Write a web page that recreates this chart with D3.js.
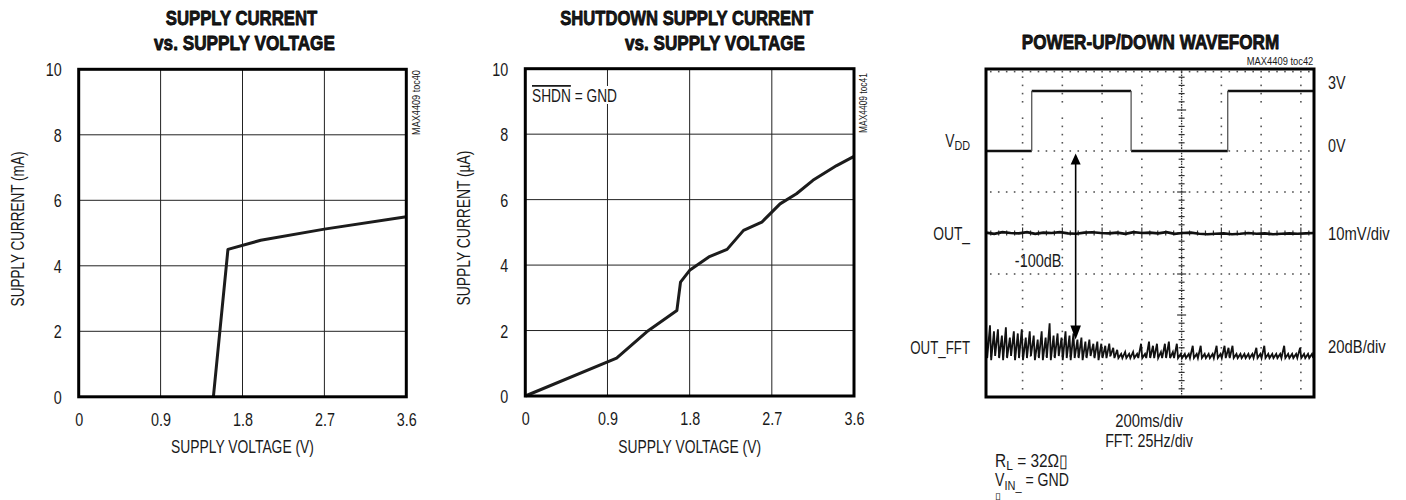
<!DOCTYPE html>
<html>
<head>
<meta charset="utf-8">
<script src="https://cdn.jsdelivr.net/npm/d3@7"></script>
<style>
  html, body { margin: 0; padding: 0; background: #fff; }
  svg { display: block; }
</style>
</head>
<body>
<svg id="chart" width="1406" height="500"></svg>
<script>
// ---------- data ----------
const voltTicks = [0, 0.9, 1.8, 2.7, 3.6];
const currentTicks = [0, 2, 4, 6, 8, 10];

// Supply current vs supply voltage (mA)
const supplyVoltage   = [1.48, 1.64, 2.00, 2.70, 3.60];
const supplyCurrentMA = [0.00, 4.50, 4.78, 5.12, 5.50];

// Shutdown supply current vs supply voltage (uA)
const shdnVoltage   = [0, 1.00, 1.33, 1.66, 1.70, 1.80, 2.01, 2.21, 2.39, 2.59, 2.79, 2.97, 3.15, 3.41, 3.60];
const shdnCurrentUA = [0, 1.16, 1.96, 2.61, 3.48, 3.84, 4.25, 4.48, 5.06, 5.31, 5.87, 6.18, 6.59, 7.04, 7.32];

// Power-up/down waveform
const vddEdgesMs = [230, 730, 1216];       // VDD transitions
const vddLevelsV = [0, 3, 0, 3];           // level in each interval
const outSampleMs = 41.25;                 // OUT_ sample interval
const outMv = [0.1, -0.2, 0.2, 0, -0.1, 0.2, -0.2, 0.1, 0, 0.2, -0.1, -0.2, 0.1, 0.2, 0, -0.1, 0.1, -0.2, 0.2, 0,
               0.1, -0.1, 0.2, -0.2, 0, 0.1, -0.2, -0.3, -0.2, -0.1, -0.3, -0.2, 0, -0.2, -0.1, -0.3, -0.2, -0.1, -0.2, -0.1, 0];
const fftBinHz = 2.5;
const fftHighDb = [-86, -85, -88, -87, -90, -86, -91, -88, -89, -87, -91, -88, -90, -92, -88, -91, -84, -90, -89, -91,
                   -88, -90, -89, -92, -91, -93, -92, -94, -93, -94, -95, -94, -96, -97, -99, -98, -99, -98, -99, -94,
                   -99, -93, -95, -94, -98, -94, -93, -98, -94, -99, -99, -99, -95, -99, -95, -99, -99, -99, -95, -99,
                   -95, -96, -95, -99, -99, -99, -99, -99, -96, -99, -95, -99, -99, -99, -99, -95, -99, -99, -99, -96,
                   -99, -99, -99];
const fftLowDb  = [-101, -102, -100, -101, -102, -101, -100, -102, -101, -102, -101, -100, -102, -101, -102, -101, -102, -101, -100, -102,
                   -101, -102, -101, -101, -102, -101, -100, -101, -102, -101, -101, -100, -101, -101, -101, -101, -101, -101, -101, -101,
                   -101, -101, -101, -101, -101, -101, -101, -101, -101, -101, -101, -101, -101, -101, -101, -101, -101, -101, -101, -101,
                   -101, -101, -101, -101, -101, -101, -101, -101, -101, -101, -101, -101, -101, -101, -101, -101, -101, -101, -101, -101,
                   -101, -101, -101];
const attenuationSpanDb = [0, -92];        // arrow between 0V line and FFT floor
const attenuationMs = 451;

// ---------- text helpers ----------
const FONT = "'Liberation Sans Narrow','Arial Narrow','Liberation Sans',Arial,sans-serif";
const INK = "#1a1a1a";
const NARROW = (() => {
  const c = document.createElement("canvas").getContext("2d");
  c.font = "40px monospace";
  const a = c.measureText("SUPPLY VOLTAGE mmm").width;
  c.font = "40px 'Liberation Sans Narrow', monospace";
  const b = c.measureText("SUPPLY VOLTAGE mmm").width;
  return Math.abs(a - b) > 0.5;
})();
const DEFAULT_SX = NARROW ? 1 : 0.82;

const svg = d3.select("#chart");

function label(parent, x, y, parts, o = {}) {
  const size = o.size || 17.5;
  const t = parent.append("text")
    .attr("font-family", FONT)
    .attr("font-size", size)
    .attr("font-weight", o.weight || "normal")
    .attr("text-anchor", o.anchor || "start")
    .attr("fill", o.fill || INK);
  if (o.heavy) t.attr("stroke", "#000").attr("stroke-width", o.heavy).attr("stroke-linejoin", "round");
  const list = Array.isArray(parts) ? parts : [{ t: parts }];
  let inSub = false;
  list.forEach(p => {
    const ts = t.append("tspan").text(p.t);
    if (p.sub) {
      ts.attr("font-size", size * 0.78).attr("dy", size * 0.2);
      inSub = true;
    } else if (inSub) {
      ts.attr("dy", -size * 0.2);
      inSub = false;
    }
    if (p.overline) ts.attr("text-decoration", "overline");
  });
  const w = t.node().getBBox().width;
  const sx = o.width ? o.width / w : DEFAULT_SX;
  t.attr("transform", `translate(${x},${y}) rotate(${o.rotate || 0}) scale(${sx},1)`);
  return t;
}

// ---------- XY panels ----------
function xyPanel(cfg) {
  const g = svg.append("g");
  const x = d3.scaleLinear().domain([0, 3.6]).range(cfg.xr);
  const y = d3.scaleLinear().domain([0, 10]).range(cfg.yr);

  g.append("g").selectAll("line").data(voltTicks.slice(1, -1)).join("line")
    .attr("x1", d => x(d)).attr("x2", d => x(d))
    .attr("y1", cfg.yr[0]).attr("y2", cfg.yr[1])
    .attr("stroke", "#222").attr("stroke-width", 1);
  g.append("g").selectAll("line").data(currentTicks.slice(1, -1)).join("line")
    .attr("y1", d => y(d)).attr("y2", d => y(d))
    .attr("x1", cfg.xr[0]).attr("x2", cfg.xr[1])
    .attr("stroke", "#222").attr("stroke-width", 1);

  if (cfg.note) cfg.note(g, x, y);

  g.append("path")
    .datum(d3.zip(cfg.vx, cfg.vy))
    .attr("d", d3.line().x(d => x(d[0])).y(d => y(d[1])))
    .attr("fill", "none").attr("stroke", "#1c1c1c")
    .attr("stroke-width", 3).attr("stroke-linejoin", "round");

  g.append("rect")
    .attr("x", cfg.xr[0]).attr("y", cfg.yr[1])
    .attr("width", cfg.xr[1] - cfg.xr[0]).attr("height", cfg.yr[0] - cfg.yr[1])
    .attr("fill", "none").attr("stroke", "#000").attr("stroke-width", 3);

  // tick labels through d3 axes
  const xa = g.append("g").attr("transform", `translate(0,${cfg.yr[0]})`)
    .call(d3.axisBottom(x).tickValues(voltTicks).tickSize(0).tickPadding(16.5)
      .tickFormat(d => d === 0 ? "0" : d.toFixed(1)));
  const ya = g.append("g").attr("transform", `translate(${cfg.xr[0]},0)`)
    .call(d3.axisLeft(y).tickValues(currentTicks).tickSize(0).tickPadding(17)
      .tickFormat(d => String(d)));
  [xa, ya].forEach(a => {
    a.select(".domain").remove();
    a.selectAll("text").attr("font-family", FONT).attr("font-size", 17.5).attr("fill", INK);
  });
  ya.selectAll("text").attr("dy", "0.37em").attr("x", 0)
    .attr("transform", `translate(-17,0) scale(${DEFAULT_SX},1)`);
  xa.selectAll("text").attr("transform", `scale(${DEFAULT_SX},1)`);

  // titles
  label(g, cfg.t1[0], cfg.t1[1], cfg.title[0], { anchor: "middle", weight: "bold", size: 21, width: cfg.t1[2], heavy: 0.8 });
  label(g, cfg.t2[0], cfg.t2[1], cfg.title[1], { anchor: "middle", weight: "bold", size: 21, width: cfg.t2[2], heavy: 0.8 });
  label(g, (cfg.xr[0] + cfg.xr[1]) / 2, 452.7, "SUPPLY VOLTAGE (V)", { anchor: "middle", width: 143 });
  label(g, cfg.ylab[0], cfg.ylab[1], cfg.ytitle, { anchor: "middle", rotate: -90, width: 155 });
  label(g, cfg.toc[0], cfg.toc[1], cfg.tocText, { anchor: "middle", rotate: -90, size: 10.5, width: cfg.toc[2] });
  return g;
}

xyPanel({
  xr: [78.7, 406.3], yr: [396.8, 69.3],
  vx: supplyVoltage, vy: supplyCurrentMA,
  title: ["SUPPLY CURRENT", "vs. SUPPLY VOLTAGE"],
  t1: [241.5, 24.5, 151.6], t2: [244.5, 49.5, 181],
  ytitle: "SUPPLY CURRENT (mA)", ylab: [23.5, 229],
  tocText: "MAX4409 toc40", toc: [420, 102.5, 65]
});

xyPanel({
  xr: [525.3, 854], yr: [396, 68.7],
  vx: shdnVoltage, vy: shdnCurrentUA,
  title: ["SHUTDOWN SUPPLY CURRENT", "vs. SUPPLY VOLTAGE"],
  t1: [686.7, 25, 253.3], t2: [715, 50, 180],
  ytitle: "SUPPLY CURRENT (\u00b5A)", ylab: [469.5, 228],
  tocText: "MAX4409 toc41", toc: [867, 103, 60],
  note: (g) => {
    g.append("rect").attr("x", 529).attr("y", 86).attr("width", 91).attr("height", 18).attr("fill", "#fff");
    label(g, 532, 101.7, [{ t: "SHDN", overline: true }, { t: " = GND" }], { width: 85 });
  }
});

// ---------- oscilloscope panel ----------
(function scopePanel() {
  const g = svg.append("g");
  const SX0 = 986, SX1 = 1314, SY0 = 397, SY1 = 69;
  const tX = d3.scaleLinear().domain([0, 1650]).range([SX0, SX1]);       // 200 ms/div
  const fX = d3.scaleLinear().domain([0, 206.25]).range([SX0, SX1]);     // 25 Hz/div
  const dY = d3.scaleLinear().domain([-4, 4]).range([SY0, SY1]);         // graticule divisions
  const vddY = v => dY(2 + v / 2.05);
  const outY = mv => dY(mv / 10);
  const fftY = db => dY(2 + db / 20);

  const centerMs = 984, msPerDiv = 200;
  const pxX = d => tX(centerMs + d * msPerDiv);
  const minorX = d3.range(-25, 17).map(j => j / 5).filter(d => pxX(d) > SX0 + 2 && pxX(d) < SX1 - 2);
  const minorY = d3.range(-19, 20).map(j => j / 5);

  const dot = (x, y) => g.append("rect").attr("x", x - 0.8).attr("y", y - 0.8)
    .attr("width", 1.6).attr("height", 1.6).attr("fill", "#555");

  // dotted columns
  [-4, -3, -2, -1, 1, 2, 3].forEach(k => {
    minorY.filter(d => Math.abs(d - Math.round(d)) > 0.01).forEach(d => dot(pxX(k), dY(d)));
  });
  // dotted rows
  [2, 1, -1, -3].forEach(r => {
    minorX.forEach(d => dot(pxX(d), dY(r)));
  });
  // dotted row along the top edge
  minorX.forEach(d => dot(pxX(d), SY1 + 2.6));

  // centre vertical axis with minor ticks
  g.append("line").attr("x1", pxX(0)).attr("x2", pxX(0)).attr("y1", SY1).attr("y2", SY0)
    .attr("stroke", "#333").attr("stroke-width", 1.3).attr("stroke-dasharray", "1.6,1.1");
  minorY.forEach(d => {
    const major = Math.abs(d - Math.round(d)) < 0.01;
    const h = major ? 4.5 : 3;
    g.append("line").attr("x1", pxX(0) - h).attr("x2", pxX(0) + h).attr("y1", dY(d)).attr("y2", dY(d))
      .attr("stroke", "#333").attr("stroke-width", 1.2);
  });
  // centre horizontal axis ticks
  minorX.forEach(d => {
    const major = Math.abs(d - Math.round(d)) < 0.01;
    const h = major ? 5.5 : 2.5;
    g.append("line").attr("x1", pxX(d)).attr("x2", pxX(d)).attr("y1", dY(0) - h).attr("y2", dY(0) + h)
      .attr("stroke", "#333").attr("stroke-width", 1.2);
  });

  // VDD trace
  const bounds = [0, ...vddEdgesMs, 1650];
  vddLevelsV.forEach((v, i) => {
    g.append("line").attr("x1", tX(bounds[i])).attr("x2", tX(bounds[i + 1]))
      .attr("y1", vddY(v)).attr("y2", vddY(v))
      .attr("stroke", "#111").attr("stroke-width", 2.6);
  });
  vddEdgesMs.forEach(t => {
    g.append("line").attr("x1", tX(t)).attr("x2", tX(t)).attr("y1", vddY(0)).attr("y2", vddY(3))
      .attr("stroke", "#555").attr("stroke-width", 1.3);
  });

  // OUT_ trace
  g.append("path")
    .datum(outMv)
    .attr("d", d3.line().x((d, i) => tX(i * outSampleMs)).y(d => outY(d)))
    .attr("fill", "none").attr("stroke", "#111").attr("stroke-width", 2.6);

  // OUT_ FFT trace: each bin drawn as a stroke from its peak down to its floor
  const fftPts = [];
  fftHighDb.forEach((hi, i) => {
    fftPts.push([fX(i * fftBinHz), fftY(hi)]);
    fftPts.push([fX(i * fftBinHz) + 1.2, fftY(fftLowDb[i])]);
  });
  g.append("path")
    .attr("d", d3.line()(fftPts.filter(p => p[0] <= SX1)))
    .attr("fill", "none").attr("stroke", "#111").attr("stroke-width", 1.8);

  // attenuation arrow
  const ax = tX(attenuationMs);
  const ay0 = fftY(attenuationSpanDb[0]) + 2.5, ay1 = fftY(attenuationSpanDb[1]);
  g.append("line").attr("x1", ax).attr("x2", ax).attr("y1", ay0 + 8).attr("y2", ay1 - 10)
    .attr("stroke", "#000").attr("stroke-width", 1.6);
  g.append("path").attr("d", `M${ax},${ay0} L${ax - 5},${ay0 + 11} L${ax + 5},${ay0 + 11} Z`).attr("fill", "#000");
  g.append("path").attr("d", `M${ax},${ay1} L${ax - 5.3},${ay1 - 14} L${ax + 5.3},${ay1 - 14} Z`).attr("fill", "#000");
  label(g, 1061.5, 266.7, "-100dB", { anchor: "end", width: 46.7 });

  // frame
  g.append("rect").attr("x", SX0).attr("y", SY1).attr("width", SX1 - SX0).attr("height", SY0 - SY1)
    .attr("fill", "none").attr("stroke", "#000").attr("stroke-width", 3);

  // labels
  label(g, 1150.5, 49.3, "POWER-UP/DOWN WAVEFORM", { anchor: "middle", weight: "bold", size: 21, width: 257.6, heavy: 0.8 });
  label(g, 1313.3, 65, "MAX4409 toc42", { anchor: "end", size: 10.5, width: 66.7 });
  label(g, 1328, 89.3, "3V");
  label(g, 1328, 151.5, "0V");
  label(g, 1328, 240, "10mV/div", { width: 62 });
  label(g, 1328, 353, "20dB/div", { width: 58 });
  label(g, 970, 146.7, [{ t: "V" }, { t: "DD", sub: true }], { anchor: "end", width: 25 });
  label(g, 970, 240, "OUT_", { anchor: "end", width: 37 });
  label(g, 970, 354, "OUT_FFT", { anchor: "end", width: 60 });
  label(g, 1149, 426.5, "200ms/div", { anchor: "middle", width: 68 });
  label(g, 1149, 446.7, "FFT: 25Hz/div", { anchor: "middle", width: 88 });
  label(g, 995, 466.5, [{ t: "R" }, { t: "L", sub: true }, { t: " = 32\u03a9\u25af" }], { width: 73 });
  label(g, 995, 486, [{ t: "V" }, { t: "IN_", sub: true }, { t: " = GND" }], { width: 74 });
  label(g, 995, 498.5, "\u25af", { size: 9, width: 6 });
})();
</script>
</body>
</html>
